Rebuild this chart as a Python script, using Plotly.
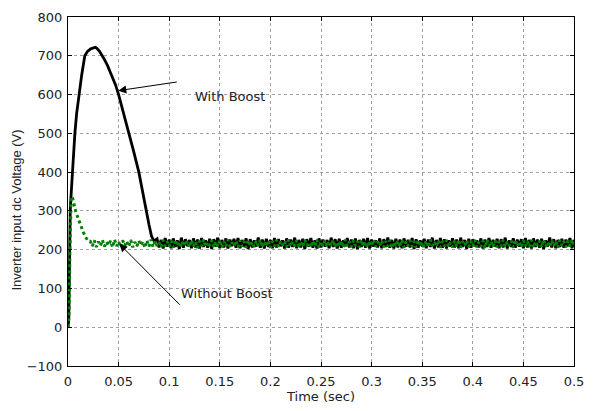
import plotly.graph_objects as go

# ---- With Boost (black) : transient part ----
t_boost_tr = [0.0, 0.0008, 0.0012, 0.0016, 0.0022, 0.0028, 0.0036, 0.0046, 0.0057, 0.0068,
              0.0085, 0.0107, 0.0135, 0.0166, 0.0195, 0.0225, 0.0255, 0.027, 0.0285, 0.031,
              0.035, 0.039, 0.043, 0.047, 0.050, 0.055, 0.060, 0.065, 0.070, 0.074,
              0.077, 0.080, 0.0825, 0.085]
v_boost_tr = [0, 20, 110, 240, 300, 330, 370, 400, 450, 500,
              550, 600, 650, 700, 712, 718, 721, 722, 719, 712,
              695, 675, 650, 625, 600, 552, 505, 452, 400, 345,
              300, 265, 235, 222]

# ---- With Boost : steady-state ripple (starts at 0.088, step 0.002 s) ----
boost_ss_start = 0.088
ss_step = 0.002
v_boost_ss = [
    228, 206, 225, 203, 230, 208, 226, 204, 229, 207, 224, 202, 231, 205, 227, 209, 225, 204, 229, 206,
    226, 203, 230, 207, 224, 205, 228, 202, 227, 208, 231, 204, 225, 206, 229, 203, 226, 209, 228, 205,
    230, 204, 225, 207, 229, 202, 227, 206, 224, 208, 231, 205, 226, 203, 228, 207, 225, 204, 230, 206,
    227, 209, 224, 203, 229, 205, 226, 207, 231, 204, 225, 206, 228, 202, 227, 208, 230, 205, 224, 203,
    229, 206, 226, 208, 225, 204, 231, 207, 227, 203, 228, 205, 224, 209, 230, 206, 226, 204, 229, 202,
    225, 207, 228, 205, 230, 203, 226, 208, 224, 206, 229, 204, 227, 207, 231, 205, 225, 203, 228, 206,
    226, 204, 229, 208, 225, 206, 230, 202, 227, 205, 224, 209, 228, 204, 226, 207, 231, 203, 225, 206,
    230, 205, 227, 203, 224, 208, 229, 206, 226, 204, 231, 207, 225, 202, 228, 205, 227, 209, 224, 206,
    229, 203, 226, 207, 230, 205, 225, 208, 228, 204, 227, 206, 231, 203, 224, 207, 229, 205, 226, 208,
    227, 204, 230, 206, 225, 203, 229, 207, 226, 205, 228, 202, 224, 208, 231, 206, 227, 204, 225, 207,
    228, 205, 226, 209, 230, 204, 225, 206, 229,
]

# ---- Without Boost (green) : transient part ----
t_noboost_tr = [0.0, 0.0012, 0.0018, 0.0024, 0.003, 0.0036, 0.0045, 0.0055, 0.0075, 0.010,
                0.0125, 0.015, 0.0175, 0.020]
v_noboost_tr = [0, 40, 180, 290, 325, 337, 333, 322, 300, 281,
                262, 246, 232, 222]

# ---- Without Boost : steady-state ripple (starts at 0.022, step 0.002 s) ----
noboost_ss_start = 0.022
v_noboost_ss = [
    222, 209, 224, 207, 221, 210, 225, 208, 220, 211, 223, 206, 226, 209, 221, 207, 224, 210, 222, 208,
    225, 206, 220, 209, 223, 211, 221, 205, 224, 208, 226, 207, 222, 210, 219, 206, 225, 209, 221, 208,
    223, 205, 226, 209, 220, 207, 224, 210, 222, 206, 225, 208, 221, 204, 223, 209, 226, 207, 220, 210,
    224, 206, 221, 208, 225, 205, 222, 209, 226, 207, 219, 210, 223, 206, 224, 208, 221, 205, 225, 209,
    220, 207, 223, 210, 226, 206, 221, 208, 224, 205, 222, 209, 225, 207, 220, 211, 223, 206, 226, 208,
    221, 209, 224, 205, 222, 207, 225, 210, 219, 206, 223, 208, 226, 204, 221, 209, 224, 207, 222, 210,
    225, 206, 220, 208, 223, 205, 226, 209, 221, 207, 224, 210, 222, 206, 225, 208, 220, 205, 223, 209,
    226, 207, 221, 210, 224, 206, 222, 208, 225, 204, 220, 209, 223, 207, 226, 205, 221, 210, 224, 208,
    222, 205, 225, 209, 220, 207, 223, 206, 226, 210, 221, 208, 224, 205, 222, 209, 225, 207, 219, 206,
    223, 208, 226, 205, 221, 210, 224, 207, 222, 209, 225, 206, 220, 208, 223, 204, 226, 209, 221, 207,
    224, 206, 222, 209, 225, 207, 220, 210, 223, 205, 226, 208, 221, 206, 224, 209, 222, 207, 225, 205,
    221, 210, 223, 206, 226, 208, 220, 207, 224, 209, 222, 205, 225, 210, 221, 206, 223, 208, 226, 207,
]

x_tickvals = [0, 0.05, 0.1, 0.15, 0.2, 0.25, 0.3, 0.35, 0.4, 0.45, 0.5]
x_ticktext = ["0", "0.05", "0.1", "0.15", "0.2", "0.25", "0.3", "0.35", "0.4", "0.45", "0.5"]
y_tickvals = [-100, 0, 100, 200, 300, 400, 500, 600, 700, 800]

# build full series
t_boost = t_boost_tr + [round(boost_ss_start + ss_step * i, 4) for i in range(len(v_boost_ss))]
v_boost = v_boost_tr + v_boost_ss
t_noboost = t_noboost_tr + [round(noboost_ss_start + ss_step * i, 4) for i in range(len(v_noboost_ss))]
v_noboost = v_noboost_tr + v_noboost_ss

HFONT = "DejaVu Sans, sans-serif"
VFONT = "Arial, 'Liberation Sans', sans-serif"
FS = 13

fig = go.Figure()
fig.add_trace(go.Scatter(x=t_boost, y=v_boost, mode="lines",
                         line=dict(color="black", width=2.8), name="With Boost"))
fig.add_trace(go.Scatter(x=t_noboost, y=v_noboost, mode="lines",
                         line=dict(color="#008000", width=3, dash="dot"), name="Without Boost"))

axis_common = dict(
    showline=True, linecolor="black", linewidth=1, mirror="allticks",
    ticks="inside", ticklen=4, tickcolor="black",
    showgrid=True, gridcolor="#a0a0a0", gridwidth=1, griddash="dot",
    zeroline=False, tickfont=dict(family=HFONT, size=FS, color="#222222"),
)

fig.update_xaxes(range=[0, 0.5], tickvals=x_tickvals, ticktext=x_ticktext, ticklabelstandoff=3,
                 title=dict(text="Time (sec)", font=dict(family=HFONT, size=FS, color="#222222"), standoff=3),
                 **axis_common)
fig.update_yaxes(range=[-100, 800], tickvals=y_tickvals, ticklabelstandoff=2,
                 **axis_common)

# y-axis title (placed as annotation to match the original's offset)
fig.add_annotation(x=-0.101, y=0.448, xref="paper", yref="paper", text="Inverter input dc Voltage (V)",
                   textangle=-90, showarrow=False, xanchor="center", yanchor="middle",
                   font=dict(family=VFONT, size=13, color="#222222"))

# arrows
fig.add_annotation(x=0.0497, y=610, ax=0.109, ay=633, xref="x", yref="y", axref="x", ayref="y",
                   text="", showarrow=True, arrowhead=2, arrowsize=1.6, arrowwidth=1, arrowcolor="black")
fig.add_annotation(x=0.0507, y=215, ax=0.112, ay=54, xref="x", yref="y", axref="x", ayref="y",
                   text="", showarrow=True, arrowhead=2, arrowsize=1.6, arrowwidth=1, arrowcolor="black")
# labels
fig.add_annotation(x=0.160, y=595, xref="x", yref="y", text="With Boost", showarrow=False,
                   font=dict(family=HFONT, size=FS, color="#222222"))
fig.add_annotation(x=0.157, y=87, xref="x", yref="y", text="Without Boost", showarrow=False,
                   font=dict(family=HFONT, size=FS, color="#222222"))

fig.update_layout(
    width=594, height=411,
    margin=dict(l=68, r=13, t=10, b=44),
    paper_bgcolor="white", plot_bgcolor="white",
    showlegend=False,
    font=dict(family=HFONT, size=FS, color="#222222"),
)

fig.write_html("out.html")
